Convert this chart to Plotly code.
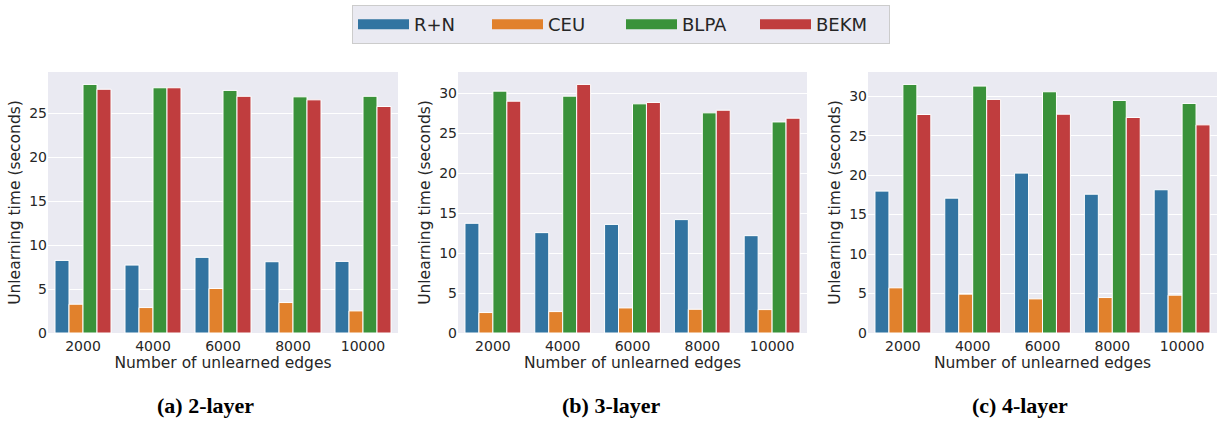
import plotly.graph_objects as go

categories = ["2000", "4000", "6000", "8000", "10000"]
methods = ["R+N", "CEU", "BLPA", "BEKM"]
colors = ["#3274A1", "#E1812C", "#3A923A", "#C03D3E"]

layer2 = {
    "R+N": [8.25, 7.72, 8.6, 8.1, 8.14],
    "CEU": [3.27, 2.89, 5.06, 3.46, 2.51],
    "BLPA": [28.25, 27.87, 27.57, 26.84, 26.9],
    "BEKM": [27.7, 27.87, 26.9, 26.5, 25.74],
}
layer3 = {
    "R+N": [13.74, 12.57, 13.6, 14.2, 12.19],
    "CEU": [2.56, 2.68, 3.14, 2.97, 2.93],
    "BLPA": [30.29, 29.66, 28.7, 27.57, 26.43],
    "BEKM": [29.03, 31.13, 28.87, 27.9, 26.9],
}
layer4 = {
    "R+N": [17.97, 17.08, 20.25, 17.58, 18.14],
    "CEU": [5.72, 4.92, 4.32, 4.49, 4.79],
    "BLPA": [31.48, 31.27, 30.55, 29.45, 29.07],
    "BEKM": [27.67, 29.58, 27.71, 27.29, 26.36],
}
panels = [layer2, layer3, layer4]
captions = ["(a) 2-layer", "(b) 3-layer", "(c) 4-layer"]
y_ticks = [[0, 5, 10, 15, 20, 25], [0, 5, 10, 15, 20, 25, 30], [0, 5, 10, 15, 20, 25, 30]]

W, H = 1225, 421
x_domains = [(48 / W, 398 / W), (458 / W, 807 / W), (868 / W, 1217 / W)]
y_domain = (88 / H, 349 / H)
caption_x = [205, 611, 1020]

TEXT = "#262626"
BG = "#EAEAF2"

fig = go.Figure()
for p, data in enumerate(panels):
    ax = "" if p == 0 else str(p + 1)
    for m, col in zip(methods, colors):
        fig.add_trace(go.Bar(
            x=categories, y=data[m], name=m,
            marker=dict(color=col, line=dict(color="white", width=1)),
            xaxis="x" + ax, yaxis="y" + ax, showlegend=False,
            offsetgroup=m,
        ))
    ymax = max(max(v) for v in data.values()) * 1.05
    fig.layout["xaxis" + ax] = dict(
        domain=x_domains[p], anchor="y" + ax, type="category",
        range=[-0.5, 4.5], showgrid=False, zeroline=False, showline=False,
        ticks="", automargin=False, ticklabelstandoff=3,
        tickfont=dict(family="DejaVu Sans", size=14, color=TEXT),
        title=dict(text="Number of unlearned edges", standoff=4,
                   font=dict(family="DejaVu Sans", size=15.5, color=TEXT)),
    )
    fig.layout["yaxis" + ax] = dict(
        domain=y_domain, anchor="x" + ax, range=[0, ymax],
        tickvals=y_ticks[p], showgrid=True, gridcolor="white", gridwidth=1.2,
        zeroline=False, showline=False, ticks="", automargin=False,
        tickfont=dict(family="DejaVu Sans", size=14, color=TEXT),
        title=dict(text="Unlearning time (seconds)", standoff=4,
                   font=dict(family="DejaVu Sans", size=15.5, color=TEXT)),
    )
    fig.add_annotation(
        text="<b>" + captions[p] + "</b>", xref="paper", yref="paper",
        x=caption_x[p] / W, y=1 - 405 / H, xanchor="center", yanchor="middle",
        showarrow=False, font=dict(family="Liberation Serif", size=22, color="black"),
    )

# legend entries (wide patches as in the reference)
for m, col in zip(methods, colors):
    fig.add_trace(go.Scatter(
        x=[None], y=[None], mode="lines", name=m,
        line=dict(color=col, width=11), showlegend=True,
    ))

fig.update_layout(
    width=W, height=H,
    margin=dict(l=0, r=0, t=0, b=0, autoexpand=False),
    paper_bgcolor="white", plot_bgcolor=BG,
    barmode="group", bargap=0.2, bargroupgap=0,
    showlegend=True,
    legend=dict(
        orientation="h", x=352 / W, y=1 - 5 / H, xanchor="left", yanchor="top",
        bgcolor=BG, bordercolor="#CCCCCC", borderwidth=1,
        font=dict(family="DejaVu Sans", size=18, color=TEXT),
        itemwidth=51, entrywidth=68,
    ),
)

fig.write_html("out.html", config={"displayModeBar": False},
               post_script="document.body.style.margin='0';")
